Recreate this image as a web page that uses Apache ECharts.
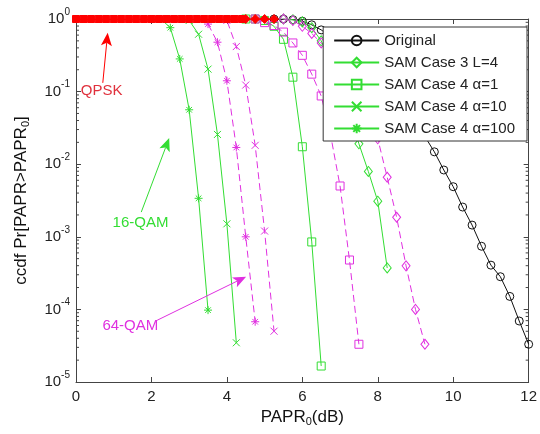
<!DOCTYPE html>
<html><head><meta charset="utf-8">
<script src="https://cdn.jsdelivr.net/npm/echarts@6/dist/echarts.min.js"></script>
<style>html,body{margin:0;padding:0;background:#fff}#c{width:540px;height:434px}</style>
</head><body><div id="c"></div>
<script>
// ---------- axes ----------
const xMin = 0, xMax = 12, xStep = 2;
const yMin = 1e-5, yMax = 1;
const yMinorTicks = [2e-5,3e-5,4e-5,5e-5,6e-5,7e-5,8e-5,9e-5,
  2e-4,3e-4,4e-4,5e-4,6e-4,7e-4,8e-4,9e-4,
  2e-3,3e-3,4e-3,5e-3,6e-3,7e-3,8e-3,9e-3,
  2e-2,3e-2,4e-2,5e-2,6e-2,7e-2,8e-2,9e-2,
  0.2,0.3,0.4,0.5,0.6,0.7,0.8,0.9];

// ---------- data (PAPR0 dB, CCDF) ----------
const origX = [5.25,5.5,5.75,6.0,6.25,6.5,6.75,7.0,7.25,7.5,7.75,8.0,8.25,8.5,8.75,9.0,9.25,9.5,9.75,10.0,10.25,10.5,10.75,11.0,11.25,11.5,11.75,12.0];
const origY = [1,1,0.977,0.933,0.832,0.708,0.575,0.447,0.339,0.251,0.182,0.132,0.0955,0.0692,0.0501,0.0355,0.024,0.0148,8.32e-3,4.9e-3,2.57e-3,1.45e-3,7.41e-4,4.07e-4,2.82e-4,1.51e-4,6.92e-5,3.31e-5];

// 16-QAM (green, solid)
const q16L4X = [5.5,5.75,6.0,6.25,6.5,6.75,7.0,7.25,7.5,7.75,8.0,8.25];
const q16L4Y = [1,0.977,0.912,0.759,0.501,0.263,0.12,0.0501,0.0191,7.94e-3,3.09e-3,3.72e-4];
const q16A1X = [4.5,4.75,5.0,5.25,5.5,5.75,6.0,6.25,6.5];
const q16A1Y = [1,1,0.955,0.794,0.525,0.158,0.0174,8.5e-4,1.66e-5];
const q16A10X = [2.75,3.0,3.25,3.5,3.75,4.0,4.25];
const q16A10Y = [1,0.955,0.617,0.204,0.0257,1.51e-3,3.47e-5];
const q16A100X = [2.25,2.5,2.75,3.0,3.25,3.5];
const q16A100Y = [1,0.759,0.282,0.0562,3.39e-3,9.77e-5];

// 64-QAM (magenta, dashed)
const q64L4X = [5.5,5.75,6.0,6.25,6.5,6.75,7.0,7.25,7.5,7.75,8.0,8.25,8.5,8.75,9.0,9.25];
const q64L4Y = [1,0.955,0.794,0.631,0.468,0.331,0.224,0.145,0.0891,0.0479,0.0224,6.61e-3,1.86e-3,3.98e-4,1e-4,3.31e-5];
const q64A1X = [4.75,5.0,5.25,5.5,5.75,6.0,6.25,6.5,6.75,7.0,7.25,7.5];
const q64A1Y = [1,0.891,0.813,0.661,0.468,0.316,0.174,0.0871,0.0251,5.01e-3,4.79e-4,3.31e-5];
const q64A10X = [3.75,4.0,4.25,4.5,4.75,5.0,5.25];
const q64A10Y = [1,0.955,0.417,0.123,0.0182,1.2e-3,5.01e-5];
const q64A100X = [3.25,3.5,3.75,4.0,4.25,4.5,4.75];
const q64A100Y = [1,0.851,0.479,0.141,0.017,1e-3,6.76e-5];

// QPSK (red)
const qpskSqX = [0,0.2,0.4,0.6,0.8,1.0,1.2,1.4,1.6,1.8,2.0,2.2,2.4,2.6,2.8,3.0,3.2,3.4,3.6,3.8,4.0,4.2,4.4];
const qpskSqY = [1,1,1,1,1,1,1,1,1,1,1,1,1,1,1,1,1,1,1,1,1,1,1];
const qpskDiX = [4.5,4.75,5.0,5.25];
const qpskDiY = [1,1,1,1];

// annotations: label centre, arrow tail, arrow tip  (data coords)
const annTexts  = ['QPSK', '16-QAM', '64-QAM'];
const annLabelX = [0.68, 1.71, 1.44];
const annLabelY = [0.102, 1.55e-3, 5.89e-5];
const annFromX  = [0.71, 1.73, 2.15];
const annFromY  = [0.132, 2.19e-3, 7.08e-5];
const annToX    = [0.84, 2.47, 4.51];
const annToY    = [0.646, 0.0229, 2.82e-4];

const legendNames = ['Original','SAM Case 3 L=4','SAM Case 4 α=1','SAM Case 4 α=10','SAM Case 4 α=100'];

// ---------- styles ----------
const FONT = 'Liberation Sans, Arial, sans-serif';
const GREEN = '#33dd33', MAG = '#e030e0', RED = '#ff0000', BLACK = '#111';
const annColors = ['#e0303c', GREEN, MAG];
const annArrowColors = [RED, GREEN, MAG];
const AX = '#444';
const SYM_X = 'path://M0,0L10,10M10,0L0,10';
const SYM_AST = 'path://M5,0L5,10M0,5L10,5M1.5,1.5L8.5,8.5M8.5,1.5L1.5,8.5';
const SYM_O = 'path://M10,5A5,5,0,1,1,0,5A5,5,0,1,1,10,5Z';
const SYM_SQ = 'path://M0,0L10,0L10,10L0,10Z';
const SYM_DI = 'path://M5,0L10,6L5,12L0,6Z';

function pairs(xs, ys){ return xs.map((x,i)=>[x, ys[i]]); }
function ser(name, xs, ys, color, symbol, size, dashed, filled, z){
  return {
    name, type:'line', data: pairs(xs, ys), showAllSymbol:true,
    symbol, symbolSize:size, z: z||2,
    lineStyle:{color, width:1, type: dashed ? [7,4] : 'solid'},
    itemStyle:{color: filled ? color : 'rgba(0,0,0,0)', borderColor:color, borderWidth:1},
    emphasis:{disabled:true}, animation:false
  };
}

const chart = echarts.init(document.getElementById('c'), null, {renderer:'canvas'});
const tickCommon = {inside:true, length:5, lineStyle:{color:AX}};
chart.setOption({
  animation:false,
  backgroundColor:'#fff',
  textStyle:{fontFamily:FONT},
  grid:{left:76, right:7, top:19, bottom:52, containLabel:false},
  legend:{
    data: legendNames, orient:'vertical', right:13, top:27,
    backgroundColor:'#fff', borderColor:'#333', borderWidth:1, borderRadius:0,
    padding:[6,12,5,10], itemGap:7, itemWidth:45, itemHeight:12,
    textStyle:{fontSize:15, color:'#222', fontFamily:FONT},
    selectedMode:false
  },
  xAxis:[{
    type:'value', min:xMin, max:xMax, interval:xStep, position:'bottom',
    axisLine:{show:true, onZero:false, lineStyle:{color:AX}},
    axisTick:tickCommon, splitLine:{show:false},
    axisLabel:{fontSize:15, color:'#222', margin:7, fontFamily:FONT},
    name:'PAPR{sub|0}(dB)', nameLocation:'middle', nameGap:24,
    nameTextStyle:{fontSize:17, color:'#111', fontFamily:FONT,
      rich:{sub:{fontSize:11, color:'#111', padding:[9,0,0,0], fontFamily:FONT}}}
  },{
    type:'value', min:xMin, max:xMax, interval:xStep, position:'top',
    axisLine:{show:true, onZero:false, lineStyle:{color:AX}},
    axisTick:tickCommon, axisLabel:{show:false}, splitLine:{show:false}
  }],
  yAxis:[{
    type:'log', logBase:10, min:yMin, max:yMax, position:'left',
    axisLine:{show:true, onZero:false, lineStyle:{color:AX}},
    axisTick:tickCommon, splitLine:{show:false},
    axisLabel:{margin:6, color:'#222', fontFamily:FONT,
      formatter:(v)=>'{b|10}{s|' + Math.round(Math.log10(v)) + '}',
      rich:{b:{fontSize:15, color:'#222', fontFamily:FONT},
            s:{fontSize:10, color:'#222', fontFamily:FONT, padding:[0,0,14,0]}}},
    name:'ccdf Pr[PAPR>PAPR{sub|0}]', nameLocation:'middle', nameGap:45, nameRotate:90,
    nameTextStyle:{fontSize:17, color:'#111', fontFamily:FONT,
      rich:{sub:{fontSize:11, color:'#111', padding:[9,0,0,0], fontFamily:FONT}}}
  },{
    type:'log', logBase:10, min:yMin, max:yMax, position:'right',
    axisLine:{show:true, onZero:false, lineStyle:{color:AX}},
    axisTick:tickCommon, axisLabel:{show:false}, splitLine:{show:false}
  }],
  series:[
    {
      type:'custom', silent:true, animation:false, z:1,
      data: yMinorTicks.map(v=>[xMin, v]),
      renderItem:(params, api)=>{
        const v = api.value(1);
        const p1 = api.coord([xMin, v]);
        const p2 = api.coord([xMax, v]);
        return {type:'group', children:[
          {type:'line', shape:{x1:p1[0], y1:p1[1], x2:p1[0]+3, y2:p1[1]}, style:{stroke:AX, lineWidth:1}},
          {type:'line', shape:{x1:p2[0]-3, y1:p2[1], x2:p2[0], y2:p2[1]}, style:{stroke:AX, lineWidth:1}}
        ]};
      }
    },
    ser('Original', origX, origY, BLACK, SYM_O, 8, false, false),
    ser('SAM Case 3 L=4', q16L4X, q16L4Y, GREEN, SYM_DI, [8,10], false, false),
    ser('SAM Case 4 α=1', q16A1X, q16A1Y, GREEN, SYM_SQ, 8, false, false),
    ser('SAM Case 4 α=10', q16A10X, q16A10Y, GREEN, SYM_X, 7, false, false),
    ser('SAM Case 4 α=100', q16A100X, q16A100Y, GREEN, SYM_AST, 8, false, false),
    ser('64L4', q64L4X, q64L4Y, MAG, SYM_DI, [8,10], true, false),
    ser('64A1', q64A1X, q64A1Y, MAG, SYM_SQ, 8, true, false),
    ser('64A10', q64A10X, q64A10Y, MAG, SYM_X, 7, true, false),
    ser('64A100', q64A100X, q64A100Y, MAG, SYM_AST, 8, true, false),
    ser('QPSK1', qpskSqX, qpskSqY, RED, 'rect', 7, false, true, 3),
    ser('QPSK2', qpskDiX, qpskDiY, RED, 'diamond', 9, false, true, 3),
    {
      type:'custom', silent:true, animation:false, z:6, clip:false,
      data: annTexts.map((t,i)=>[annLabelX[i], annLabelY[i], annFromX[i], annFromY[i], annToX[i], annToY[i]]),
      renderItem:(params, api)=>{
        const i = params.dataIndex;
        const L = api.coord([api.value(0), api.value(1)]);
        const A = api.coord([api.value(2), api.value(3)]);
        const B = api.coord([api.value(4), api.value(5)]);
        const dx = B[0]-A[0], dy = B[1]-A[1], len = Math.hypot(dx, dy);
        const ux = dx/len, uy = dy/len, px = -uy, py = ux;
        const hl = 13, hw = 5.5, nt = 3;
        const back = [B[0]-ux*hl, B[1]-uy*hl];
        const notch = [B[0]-ux*(hl-nt), B[1]-uy*(hl-nt)];
        const col = annArrowColors[i];
        return {type:'group', children:[
          {type:'line', shape:{x1:A[0], y1:A[1], x2:notch[0], y2:notch[1]}, style:{stroke:col, lineWidth:1}},
          {type:'polygon', shape:{points:[B, [back[0]+px*hw, back[1]+py*hw], notch, [back[0]-px*hw, back[1]-py*hw]]}, style:{fill:col}},
          {type:'text', x:L[0], y:L[1], style:{text:annTexts[i], fill:annColors[i], fontSize:15, fontFamily:FONT, align:'center', verticalAlign:'middle'}}
        ]};
      }
    }
  ]
});
</script></body></html>
